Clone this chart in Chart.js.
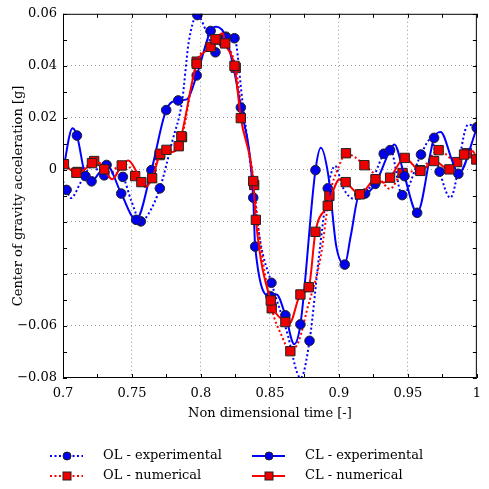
<!DOCTYPE html>
<html>
<head>
<meta charset="utf-8">
<script src="https://cdn.jsdelivr.net/npm/chart.js@4.4.1/dist/chart.umd.min.js"></script>
<style>
  html, body { margin: 0; padding: 0; background: #fff; }
  #wrap { width: 489px; height: 489px; }
</style>
</head>
<body>
<div id="wrap"><canvas id="cog" width="489" height="489"></canvas></div>
<script>
// non dimensional time and CoG acceleration [g]
const olExpT = [0.700, 0.7026, 0.7057, 0.7134, 0.7212, 0.7299, 0.7368, 0.7434, 0.7495, 0.7564, 0.7615, 0.7702, 0.7792, 0.7863, 0.7912, 0.7974, 0.8040, 0.8105, 0.8181, 0.8243, 0.8301, 0.8379, 0.8429, 0.8511, 0.8620, 0.8723, 0.8787, 0.8860, 0.8919, 0.8973, 0.9030, 0.9115, 0.9207, 0.9325, 0.9369, 0.9459, 0.9595, 0.9666, 0.9730, 0.9808, 0.9937, 1.0];
const olExpG = [-0.0043, -0.0077, -0.0108, -0.0043, 0.0015, -0.0021, -0.0012, -0.0027, -0.0119, -0.0198, -0.0173, -0.0071, 0.0110, 0.0263, 0.0493, 0.0595, 0.0531, 0.0452, 0.0512, 0.0506, 0.0263, -0.0062, -0.0272, -0.0434, -0.0617, -0.0800, -0.0657, -0.0311, -0.0071, 0.0015, -0.0069, -0.0112, -0.0081, 0.0062, 0.0087, -0.0097, 0.0059, 0.0118, -0.0007, -0.0107, 0.0174, 0.0164];
const olExpMarks = [1, 5, 7, 9, 11, 15, 17, 18, 19, 23, 26, 28, 33, 35, 36, 38, 41];

const olNumT = [0.7007, 0.7071, 0.7106, 0.7163, 0.7226, 0.7290, 0.7347, 0.7417, 0.7481, 0.7523, 0.7573, 0.7629, 0.7700, 0.7757, 0.7827, 0.7863, 0.7969, 0.8061, 0.8110, 0.8160, 0.8195, 0.8252, 0.8301, 0.8386, 0.8414, 0.8513, 0.8584, 0.8648, 0.8711, 0.8768, 0.8867, 0.8931, 0.9001, 0.9051, 0.9115, 0.9185, 0.9298, 0.9369, 0.9461, 0.9588, 0.9723, 0.9857, 0.9928, 1.0];
const olNumG = [0.0022, -0.0004, -0.0008, 0.0011, 0.0034, 0.0015, -0.0012, 0.0026, 0.0011, -0.0024, -0.0050, -0.0035, 0.0057, 0.0076, 0.0072, 0.0126, 0.0416, 0.0470, 0.0501, 0.0508, 0.0478, 0.0393, 0.0206, -0.0058, -0.0215, -0.0532, -0.0636, -0.0697, -0.0655, -0.0540, -0.0337, -0.0100, 0.0015, 0.0064, 0.0049, 0.0018, -0.0035, -0.0073, -0.0012, -0.0001, 0.0076, 0.0030, 0.0064, 0.0041];
const olNumMarks = [2, 4, 9, 12, 15, 16, 18, 21, 23, 25, 27, 31, 33, 35, 38, 39, 40, 41, 42];

const clExpT = [0.700, 0.7069, 0.7101, 0.7163, 0.7207, 0.7262, 0.7316, 0.7422, 0.7530, 0.7641, 0.7748, 0.7835, 0.7898, 0.7969, 0.8070, 0.8110, 0.8181, 0.8289, 0.8379, 0.8393, 0.8504, 0.8547, 0.8612, 0.8676, 0.8721, 0.8830, 0.8869, 0.8924, 0.8980, 0.9042, 0.9086, 0.9148, 0.9190, 0.9263, 0.9371, 0.9402, 0.9475, 0.9567, 0.9690, 0.9737, 0.9822, 0.9866, 1.0];
const clExpG = [-0.0004, 0.0160, 0.0132, -0.0024, -0.0044, -0.0012, 0.0019, -0.0091, -0.0192, -0.0001, 0.0230, 0.0267, 0.0271, 0.0363, 0.0534, 0.0550, 0.0509, 0.0240, -0.0107, -0.0295, -0.0486, -0.0479, -0.0559, -0.0670, -0.0594, -0.0001, 0.0085, -0.0024, -0.0291, -0.0364, -0.0253, -0.0094, -0.0091, -0.0054, 0.0076, 0.0098, -0.0024, -0.0165, 0.0123, 0.0146, 0.0034, -0.0015, 0.0161];
const clExpMarks = [2, 3, 4, 6, 7, 8, 9, 10, 11, 13, 14, 16, 17, 18, 19, 20, 22, 24, 25, 29, 31, 32, 33, 34, 36, 37, 38, 41, 42];

const clNumT = [0.7007, 0.7097, 0.7163, 0.7210, 0.7262, 0.7299, 0.7356, 0.7426, 0.7474, 0.7533, 0.7568, 0.7596, 0.7646, 0.7705, 0.7750, 0.7792, 0.7839, 0.7858, 0.7969, 0.8070, 0.8105, 0.8158, 0.8176, 0.8243, 0.8289, 0.8379, 0.8398, 0.8506, 0.8612, 0.8641, 0.8721, 0.8782, 0.8830, 0.8919, 0.9006, 0.9049, 0.9152, 0.9265, 0.9325, 0.9371, 0.9477, 0.9591, 0.9690, 0.9801, 0.9907, 0.9972, 0.9996];
const clNumG = [0.0022, -0.0011, 0.0004, 0.0026, 0.0027, 0.0002, -0.0036, 0.0017, 0.0036, -0.0007, -0.0047, -0.0066, -0.0032, 0.0062, 0.0077, 0.0069, 0.0091, 0.0129, 0.0408, 0.0473, 0.0502, 0.0525, 0.0486, 0.0400, 0.0199, -0.0043, -0.0192, -0.0502, -0.0585, -0.0591, -0.0479, -0.0451, -0.0238, -0.0138, -0.0036, -0.0047, -0.0094, -0.0036, -0.0049, -0.0030, 0.0046, -0.0004, 0.0034, 0.0002, 0.0059, 0.0072, 0.0040];
const clNumMarks = [0, 1, 3, 5, 7, 10, 12, 13, 14, 16, 17, 18, 19, 20, 22, 23, 24, 25, 26, 27, 28, 30, 31, 32, 33, 35, 36, 37, 39, 40, 41, 42, 43, 44, 46];

const xTickValues = [0.7, 0.75, 0.8, 0.85, 0.9, 0.95, 1];
const xTickLabels = ['0.7', '0.75', '0.8', '0.85', '0.9', '0.95', '1'];
const yTickValues = [0.06, 0.04, 0.02, 0, -0.06, -0.08];
const yTickLabels = ['0.06', '0.04', '0.02', '0', '\u22120.06', '\u22120.08'];

const FONT = '"DejaVu Serif", serif';
const BLUE = '#0000ff', RED = '#ff0000';

const series = [
  { label: 'OL - experimental', t: olExpT, g: olExpG, marks: olExpMarks, color: BLUE, fillc: '#0000ee', dash: [2, 2.5], shape: 'circle', r: 4.8 },
  { label: 'OL - numerical', t: olNumT, g: olNumG, marks: olNumMarks, color: RED, fillc: '#ee0000', dash: [2, 2.5], shape: 'rect', r: 6.6 },
  { label: 'CL - experimental', t: clExpT, g: clExpG, marks: clExpMarks, color: BLUE, fillc: '#0000ee', dash: [], shape: 'circle', r: 4.8 },
  { label: 'CL - numerical', t: clNumT, g: clNumG, marks: clNumMarks, color: RED, fillc: '#ee0000', dash: [], shape: 'rect', r: 6.6 }
];

function near(v, list) {
  return list.findIndex(a => Math.abs(a - v) < 1e-6);
}

// black frame + inward ticks on all four sides
const framePlugin = {
  id: 'frame',
  afterDatasetsDraw(chart) {
    const c = chart.ctx, a = chart.chartArea;
    const xs = chart.scales.x, ys = chart.scales.y;
    c.save();
    c.strokeStyle = '#000';
    c.lineWidth = 1;
    c.strokeRect(a.left + 0.5, a.top + 0.5, a.right - a.left - 1, a.bottom - a.top - 1);
    c.beginPath();
    xs.ticks.forEach(t => {
      const px = Math.round(xs.getPixelForValue(t.value)) + 0.5;
      c.moveTo(px, a.top); c.lineTo(px, a.top + 4);
      c.moveTo(px, a.bottom); c.lineTo(px, a.bottom - 4);
    });
    ys.ticks.forEach(t => {
      const py = Math.round(ys.getPixelForValue(t.value)) + 0.5;
      c.moveTo(a.left, py); c.lineTo(a.left + 4, py);
      c.moveTo(a.right, py); c.lineTo(a.right - 4, py);
    });
    c.stroke();
    c.restore();
  }
};

// legend under the axis, two columns
const legendPlugin = {
  id: 'bottomLegend',
  afterDraw(chart) {
    const c = chart.ctx;
    const cols = [50, 252], rows = [456, 476];
    c.save();
    series.forEach((s, i) => {
      const x0 = cols[i < 2 ? 0 : 1], y = rows[i % 2];
      c.strokeStyle = s.color;
      c.lineWidth = 2;
      c.setLineDash(s.dash);
      c.beginPath();
      c.moveTo(x0, y); c.lineTo(x0 + 33, y);
      c.stroke();
      c.setLineDash([]);
      c.fillStyle = s.fillc;
      c.strokeStyle = '#222';
      c.lineWidth = 1;
      const mx = x0 + 17;
      if (s.shape === 'circle') {
        c.beginPath(); c.arc(mx, y, 4, 0, Math.PI * 2); c.fill(); c.stroke();
      } else {
        c.fillRect(mx - 4, y - 4, 8, 8); c.strokeRect(mx - 4, y - 4, 8, 8);
      }
      c.fillStyle = '#000';
      c.font = '13px ' + FONT;
      c.textBaseline = 'middle';
      c.fillText(s.label, x0 + 53, y);
    });
    c.restore();
  }
};

// first dataset ends up on top, so feed them reversed
const datasets = series.slice().reverse().map(s => ({
  label: s.label,
  data: s.t.map((x, i) => ({ x: x, y: s.g[i] })),
  borderColor: s.color,
  borderWidth: 2,
  borderDash: s.dash,
  borderCapStyle: 'butt',
  backgroundColor: s.fillc,
  pointBackgroundColor: s.fillc,
  pointBorderColor: '#222',
  pointBorderWidth: 1,
  pointStyle: s.shape,
  pointRadius: ctx => s.marks.includes(ctx.dataIndex) ? s.r : 0,
  pointHoverRadius: 0,
  cubicInterpolationMode: 'monotone',
  fill: false
}));

new Chart(document.getElementById('cog'), {
  type: 'line',
  data: { datasets: datasets },
  options: {
    responsive: false,
    animation: false,
    devicePixelRatio: 1,
    layout: { padding: { top: 12, right: 2, bottom: 63, left: 0 } },
    plugins: {
      legend: { display: false },
      tooltip: { enabled: false }
    },
    scales: {
      x: {
        type: 'linear',
        min: 0.7,
        max: 1,
        afterFit: s => { s.height = 48; },
        ticks: {
          stepSize: 0.025,
          padding: 8,
          maxRotation: 0,
          autoSkip: false,
          color: '#000',
          font: { family: FONT, size: 13 },
          callback: v => { const k = near(v, xTickValues); return k < 0 ? '' : xTickLabels[k]; }
        },
        grid: {
          drawTicks: false,
          color: ctx => near(ctx.tick.value, xTickValues) > 0 && ctx.tick.value < 0.999 ? '#9a9a9a' : 'rgba(0,0,0,0)',
          lineWidth: 1
        },
        border: { display: false, dash: [1, 3] },
        title: {
          display: true,
          text: 'Non dimensional time [-]',
          color: '#000',
          font: { family: FONT, size: 13 },
          padding: { top: 2, bottom: 5 }
        }
      },
      y: {
        min: -0.08,
        max: 0.06,
        afterFit: s => { s.width = 63; },
        ticks: {
          stepSize: 0.01,
          padding: 6,
          autoSkip: false,
          color: '#000',
          font: { family: FONT, size: 13 },
          callback: v => { const k = near(v, yTickValues); return k < 0 ? '' : yTickLabels[k]; }
        },
        grid: {
          drawTicks: false,
          color: ctx => {
            const n = Math.round(ctx.tick.value * 100);
            return n % 2 === 0 && n > -8 && n < 6 ? '#9a9a9a' : 'rgba(0,0,0,0)';
          },
          lineWidth: 1
        },
        border: { display: false, dash: [1, 3] },
        title: {
          display: true,
          text: 'Center of gravity acceleration [g]',
          color: '#000',
          font: { family: FONT, size: 13 },
          padding: { top: 11, bottom: 4 }
        }
      }
    }
  },
  plugins: [framePlugin, legendPlugin]
});
</script>
</body>
</html>
